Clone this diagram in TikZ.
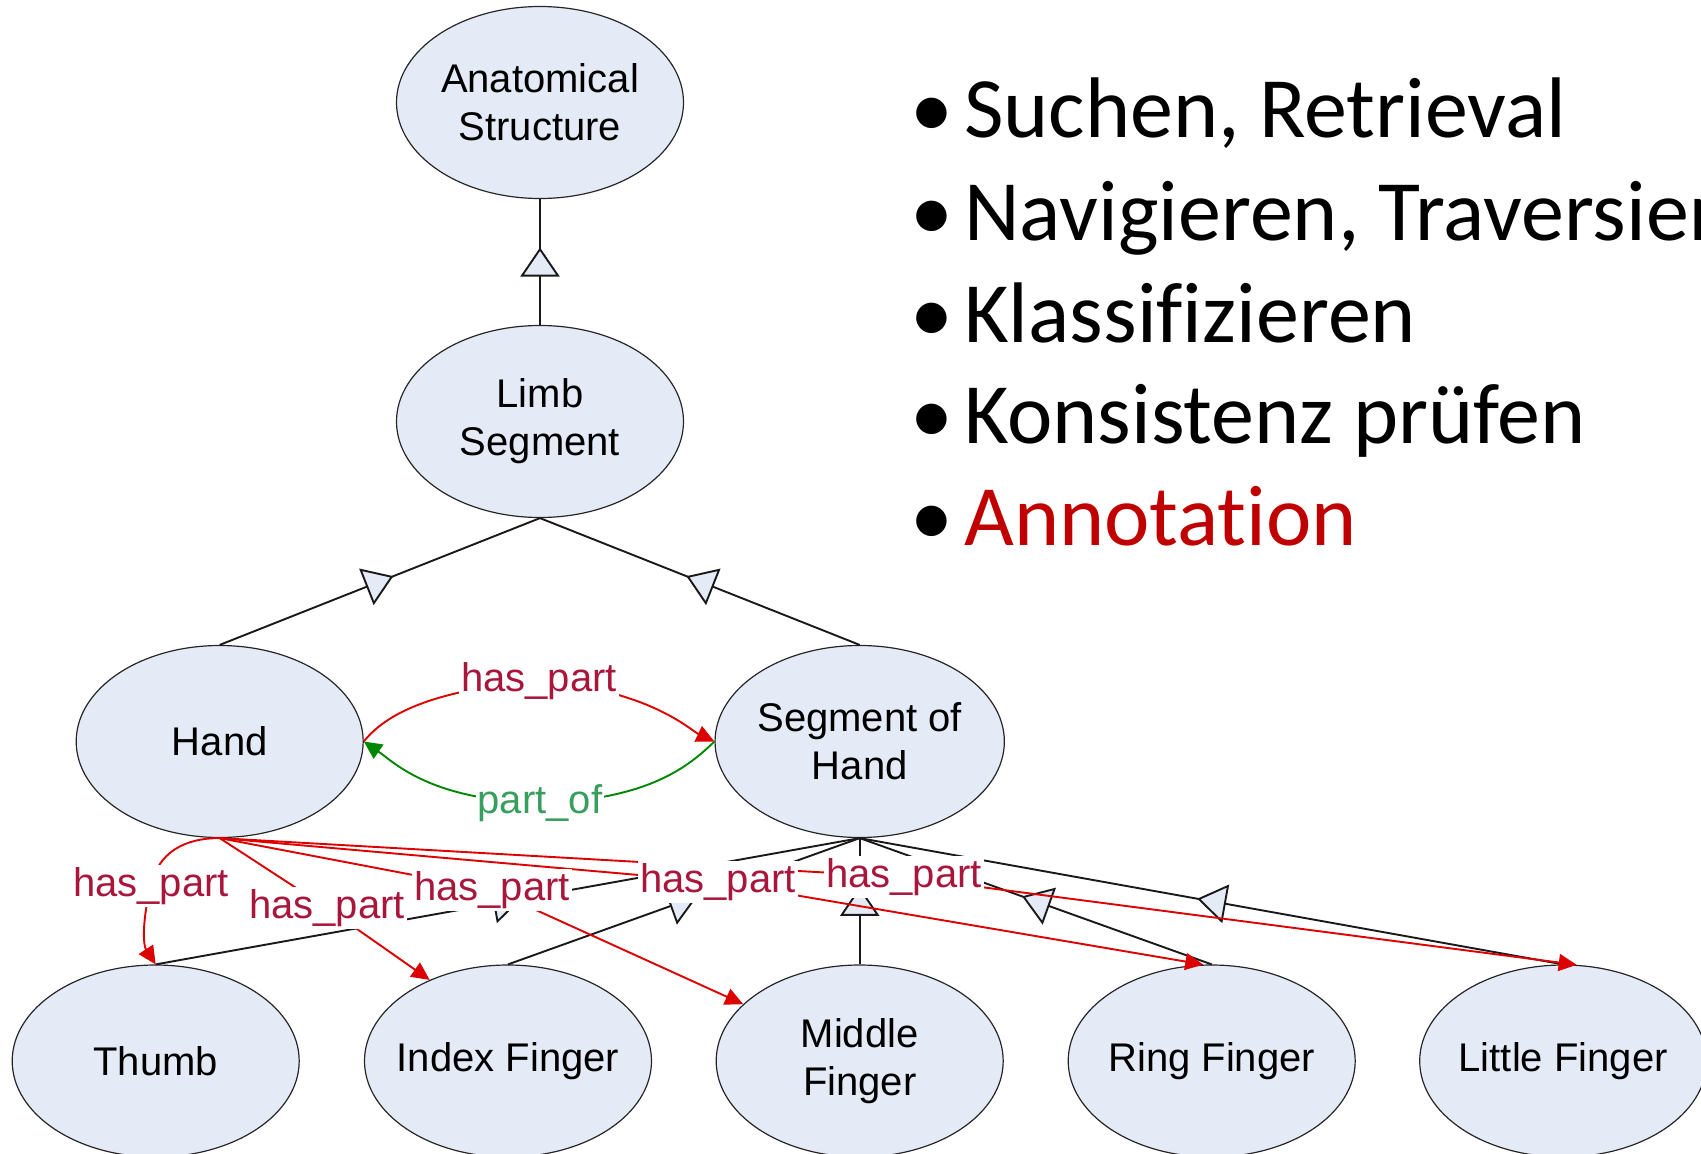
\documentclass[tikz,border=0pt]{standalone}
\usepackage{fontspec}
\setmainfont{Liberation Sans}
\newfontfamily\bulletfont[Ligatures=NoCommon]{Carlito}
\usetikzlibrary{shapes.geometric,arrows.meta,decorations.markings}
\definecolor{nodefill}{RGB}{228,234,246}
\definecolor{hpred}{RGB}{221,0,0}
\definecolor{hplabel}{RGB}{168,22,60}
\definecolor{pogreen}{RGB}{0,135,0}
\definecolor{polabel}{RGB}{56,158,94}
\definecolor{annot}{RGB}{192,0,0}
\newcommand{\fixw}[1]{\makebox[150pt]{#1}}
\begin{document}
\begin{tikzpicture}[x=1pt,y=-1pt,
  cls/.style={ellipse, draw=black!85, line width=1.2pt, fill=nodefill,
    minimum width=287pt, minimum height=192pt, inner sep=0pt, align=center,
    font=\fontsize{40}{48}\selectfont},
  isa/.style={draw=black!90, line width=1.9pt, postaction={decorate},
    decoration={markings, mark=at position 0.5 with
      {\arrow[xshift=14.5pt]{Triangle[length=29pt,width=39pt,fill=nodefill]}}}},
  hpedge/.style={draw=hpred, line width=1.9pt, -{Triangle[length=18pt,width=17pt]}},
  poedge/.style={draw=pogreen, line width=1.9pt, -{Triangle[length=18pt,width=17pt]}},
  lbl/.style={fill=white, inner sep=2pt, text=hplabel, font=\fontsize{40}{48}\selectfont},
  bul/.style={anchor=base west, inner sep=0pt, font=\bulletfont\fontsize{86}{100}\selectfont},
  bdot/.style={anchor=base, inner sep=0pt, font=\bulletfont\fontsize{86}{100}\selectfont},
]
\useasboundingbox (0,0) rectangle (1701,1154);
\clip (0,0) rectangle (1701,1154);

% class nodes
\node[cls] (anat) at (540,102.5) {Anatomical\\Structure};
\node[cls] (limb) at (540,421.5) {Limb\\Segment};
\node[cls] (hand) at (219.7,741.5) {Hand};
\node[cls] (seg) at (859.7,741.5) {Segment of\\Hand};
\node[cls] (thumb) at (155.7,1061) {Thumb};
\node[cls] (index) at (508,1061) {\fixw{Index Finger}};
\node[cls] (middle) at (859.7,1061) {Middle\\Finger};
\node[cls] (ring) at (1211.7,1061) {\fixw{Ring Finger}};
\node[cls] (little) at (1563.2,1061) {\fixw{Little Finger}};

% label positions
\coordinate (l1) at (151,886);
\coordinate (l2) at (327,908);
\coordinate (l3) at (492,890);
\coordinate (l4) at (718,882);
\coordinate (l5) at (904,877);
\coordinate (hp) at (539,681);
\coordinate (po) at (540,803);

% is_a edges
\draw[isa] (limb.north) -- (anat.south);
\draw[isa] (hand.north) -- (limb.south);
\draw[isa] (seg.north) -- (limb.south);
\draw[isa] (thumb.north) -- (seg.south);
\draw[isa] (index.north) -- (seg.south);
\draw[isa] (middle.north) -- (seg.south);
\draw[isa] (ring.north) -- (seg.south);
\draw[isa] (little.north) -- (seg.south);

% has_part / part_of between Hand and Segment of Hand
\draw[hpedge] (hand.east) .. controls (385,715) and (430,690) .. (hp)
  .. controls (650,690) and (690,730) .. (seg.west);
\draw[poedge] (seg.west) .. controls (690,765) and (650,800) .. (po)
  .. controls (430,800) and (395,763) .. (hand.east);

% has_part from Hand to the fingers
\draw[hpedge] (hand.south) .. controls (185,838) and (158,852) .. (l1)
  .. controls (142,920) and (143,945) .. (thumb.north);
\draw[hpedge] (hand.south) -- (l2) -- (index.134);
\draw[hpedge] (hand.south) -- (l3) -- (middle.154);
\draw[hpedge] (hand.south) -- (l4) -- (ring.95);
\draw[hpedge] (hand.south) -- (l5) -- (little.82);

% labels
\node[lbl] (L1) at (l1) {has\_part};
\node[lbl] (L2) at (l2) {has\_part};
\node[lbl] (L3) at (l3) {has\_part};
\node[lbl] (L4) at (l4) {has\_part};
\node[lbl] (L5) at (l5) {has\_part};
\node[lbl] (HP) at (hp) {has\_part};
\node[lbl, text=polabel] (PO) at (po) {part\_of};

% bullet list
\foreach \y/\name in {137/b1,240/b2,342/b3,443/b4,545/b5}
  \node[bdot] (\name dot) at (932,\y) {•};
\node[bul] (b1) at (964,137) {Suchen, Retrieval};
\node[bul] (b2) at (964,240) {Navigieren, Traversieren};
\node[bul] (b3) at (964,342) {Klassifizieren};
\node[bul] (b4) at (964,443) {Konsistenz prüfen};
\node[bul, text=annot] (b5) at (964,545) {Annotation};
\end{tikzpicture}
\end{document}
